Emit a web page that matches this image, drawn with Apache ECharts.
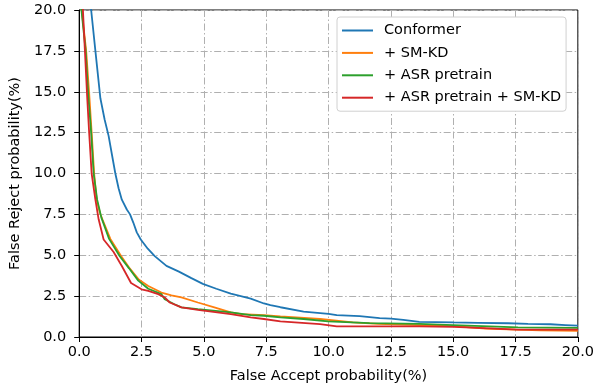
<!DOCTYPE html>
<html>
<head>
<meta charset="utf-8">
<script src="https://cdn.jsdelivr.net/npm/echarts@6/dist/echarts.min.js"></script>
<style>
html,body{margin:0;padding:0;background:#fff;}
#chart{width:597px;height:389px;}
</style>
</head>
<body>
<div id="chart"></div>
<script>
const seriesNames = ['Conformer', '+ SM-KD', '+ ASR pretrain', '+ ASR pretrain + SM-KD'];
const xTicks = ['0.0','2.5','5.0','7.5','10.0','12.5','15.0','17.5','20.0'];

const conformerX = [0.40, 0.48, 0.65, 0.85, 1.02, 1.18, 1.32, 1.45, 1.58, 1.71, 1.91, 2.04, 2.17, 2.31, 2.47, 2.75, 3.03, 3.5, 4.0, 4.5, 4.96, 5.5, 6.08, 6.88, 7.41, 7.67, 8.07, 9.0, 10.0, 10.33, 11.25, 12.05, 12.5, 13.0, 13.64, 15.0, 16.0, 17.2, 18.0, 18.9, 19.5, 20.0];
const conformerY = [22, 20, 17.5, 14.6, 13.3, 12.3, 11.1, 10.0, 9.1, 8.4, 7.8, 7.5, 7.0, 6.4, 5.96, 5.4, 4.95, 4.35, 4.0, 3.6, 3.25, 2.95, 2.65, 2.35, 2.05, 1.95, 1.82, 1.55, 1.42, 1.34, 1.28, 1.16, 1.12, 1.05, 0.93, 0.89, 0.87, 0.84, 0.80, 0.78, 0.73, 0.69];

const smkdX = [0.05, 0.10, 0.28, 0.40, 0.50, 0.60, 0.70, 0.83, 0.93, 1.25, 1.68, 2.0, 2.4, 2.77, 3.3, 3.7, 4.1, 4.76, 5.42, 6.08, 6.5, 7.41, 8.07, 9.66, 10.97, 12.0, 13.64, 15.0, 16.3, 17.5, 18.5, 20.0];
const smkdY = [22, 20, 17.5, 14.9, 12.5, 10.0, 8.4, 7.6, 7.2, 6.0, 4.95, 4.25, 3.5, 3.12, 2.72, 2.55, 2.42, 2.11, 1.81, 1.50, 1.40, 1.34, 1.26, 1.10, 0.89, 0.80, 0.73, 0.66, 0.52, 0.45, 0.40, 0.37];

const asrX = [0.05, 0.09, 0.26, 0.36, 0.48, 0.58, 0.72, 0.89, 1.2, 1.62, 2.0, 2.37, 2.77, 3.3, 3.43, 3.82, 4.10, 4.76, 6.08, 6.88, 7.41, 8.07, 9.0, 9.98, 11.65, 13.64, 15.0, 17.6, 20.0];
const asrY = [22, 20, 17.5, 14.9, 12.5, 10.0, 8.4, 7.3, 6.0, 4.95, 4.2, 3.45, 2.95, 2.62, 2.31, 2.0, 1.81, 1.70, 1.50, 1.34, 1.30, 1.20, 1.10, 0.95, 0.85, 0.80, 0.73, 0.59, 0.56];

const asrKdX = [0.08, 0.15, 0.23, 0.32, 0.40, 0.50, 0.65, 0.78, 0.98, 1.38, 1.71, 2.08, 2.5, 2.77, 3.17, 3.43, 3.63, 4.10, 4.76, 6.08, 6.88, 7.41, 8.07, 9.66, 10.33, 13.64, 15.03, 17.6, 20.0];
const asrKdY = [22, 20, 17.5, 14.7, 12.5, 10.0, 8.4, 7.2, 5.96, 5.2, 4.34, 3.3, 2.92, 2.82, 2.62, 2.42, 2.11, 1.81, 1.66, 1.40, 1.20, 1.10, 0.95, 0.79, 0.65, 0.65, 0.62, 0.45, 0.45];

const colors = ['#1f77b4', '#ff7f0e', '#2ca02c', '#d62728'];
const xs = [conformerX, smkdX, asrX, asrKdX];
const ys = [conformerY, smkdY, asrY, asrKdY];

const FONT = 'DejaVu Sans';
const FS = 14.5;
const gridLine = {show: true, lineStyle: {color: '#b0b0b0', width: 1, type: [7, 2.5, 1.5, 2.5]}};

const chart = echarts.init(document.getElementById('chart'), null, {renderer: 'canvas'});
chart.setOption({
  animation: false,
  backgroundColor: '#fff',
  grid: {left: 77, top: 10, width: 503, height: 328, show: true, borderColor: '#000', borderWidth: 1, backgroundColor: 'transparent', containLabel: false},
  legend: {
    data: seriesNames,
    orient: 'vertical',
    left: 337, top: 17,
    icon: 'rect', itemWidth: 31, itemHeight: 2,
    itemGap: 5.4,
    padding: [5, 5, 5, 5],
    backgroundColor: '#fff', borderColor: '#d0d0d0', borderWidth: 1, borderRadius: 3,
    textStyle: {fontFamily: FONT, fontSize: FS, color: '#000', lineHeight: 17, padding: [0, 0, 0, 6]}
  },
  xAxis: {
    type: 'value', min: 0, max: 20, interval: 2.5,
    name: 'False Accept probability(%)', nameLocation: 'middle', nameGap: 32,
    nameTextStyle: {fontFamily: FONT, fontSize: FS, color: '#000'},
    axisLine: {show: true, onZero: false, lineStyle: {color: '#000', width: 1}},
    axisTick: {show: true, inside: false, length: 5, lineStyle: {color: '#000'}},
    axisLabel: {fontFamily: FONT, fontSize: FS, color: '#000', margin: 8, formatter: (v) => xTicks[Math.round(v / 2.5)]},
    splitLine: gridLine
  },
  yAxis: {
    type: 'value', min: 0, max: 20, interval: 2.5,
    name: 'False Reject probability(%)', nameLocation: 'middle', nameGap: 47,
    nameTextStyle: {fontFamily: FONT, fontSize: FS, color: '#000'},
    axisLine: {show: true, onZero: false, lineStyle: {color: '#000', width: 1}},
    axisTick: {show: true, inside: false, length: 5, lineStyle: {color: '#000'}},
    axisLabel: {fontFamily: FONT, fontSize: FS, color: '#000', margin: 13, formatter: (v) => xTicks[Math.round(v / 2.5)]},
    splitLine: gridLine
  },
  series: seriesNames.map((n, i) => ({
    name: n, type: 'line', showSymbol: false, symbol: 'none', clip: true,
    color: colors[i],
    lineStyle: {color: colors[i], width: 1.8},
    data: xs[i].map((x, j) => [x, ys[i][j]])
  }))
});
</script>
</body>
</html>
